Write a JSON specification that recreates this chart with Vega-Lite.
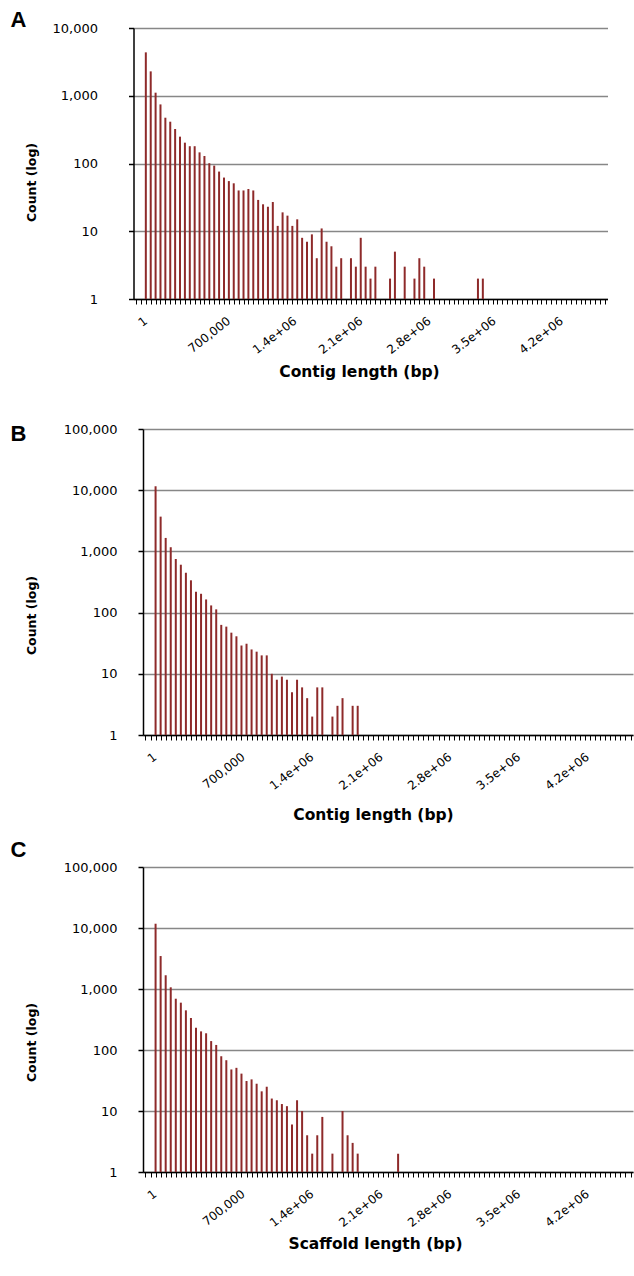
{
  "$schema": "https://vega.github.io/schema/vega-lite/v6.json",
  "background": "white",
  "padding": {"left": 10, "top": 8, "right": 0, "bottom": 0},
  "config": {"view": {"stroke": null}},
  "columns": 1,
  "align": "none",
  "spacing": 16,
  "concat": [
    {
      "width": 464.5,
      "height": 271,
      "title": {"text": "A", "anchor": "start", "frame": "group", "dx": -132.5, "offset": -26.5, "baseline": "alphabetic", "font": "Liberation Sans", "fontSize": 22, "fontWeight": "bold", "color": "#000"},
      "data": {"values": [
        {"bin_start": 0, "count": 4370}, {"bin_start": 50000, "count": 2290}, {"bin_start": 100000, "count": 1110}, {"bin_start": 150000, "count": 745},
        {"bin_start": 200000, "count": 474}, {"bin_start": 250000, "count": 414}, {"bin_start": 300000, "count": 323}, {"bin_start": 350000, "count": 249},
        {"bin_start": 400000, "count": 203}, {"bin_start": 450000, "count": 180}, {"bin_start": 500000, "count": 180}, {"bin_start": 550000, "count": 146},
        {"bin_start": 600000, "count": 129}, {"bin_start": 650000, "count": 101}, {"bin_start": 700000, "count": 93}, {"bin_start": 750000, "count": 76},
        {"bin_start": 800000, "count": 62}, {"bin_start": 850000, "count": 55}, {"bin_start": 900000, "count": 51}, {"bin_start": 950000, "count": 40},
        {"bin_start": 1000000, "count": 40}, {"bin_start": 1050000, "count": 42}, {"bin_start": 1100000, "count": 40}, {"bin_start": 1150000, "count": 29},
        {"bin_start": 1200000, "count": 25}, {"bin_start": 1250000, "count": 23}, {"bin_start": 1300000, "count": 27}, {"bin_start": 1350000, "count": 12},
        {"bin_start": 1400000, "count": 19}, {"bin_start": 1450000, "count": 17}, {"bin_start": 1500000, "count": 12}, {"bin_start": 1550000, "count": 15},
        {"bin_start": 1600000, "count": 8}, {"bin_start": 1650000, "count": 7}, {"bin_start": 1700000, "count": 9}, {"bin_start": 1750000, "count": 4},
        {"bin_start": 1800000, "count": 11}, {"bin_start": 1850000, "count": 7}, {"bin_start": 1900000, "count": 6}, {"bin_start": 1950000, "count": 3},
        {"bin_start": 2000000, "count": 4}, {"bin_start": 2100000, "count": 4}, {"bin_start": 2150000, "count": 3}, {"bin_start": 2200000, "count": 8},
        {"bin_start": 2250000, "count": 3}, {"bin_start": 2300000, "count": 2}, {"bin_start": 2350000, "count": 3}, {"bin_start": 2500000, "count": 2},
        {"bin_start": 2550000, "count": 5}, {"bin_start": 2650000, "count": 3}, {"bin_start": 2750000, "count": 2}, {"bin_start": 2800000, "count": 4},
        {"bin_start": 2850000, "count": 3}, {"bin_start": 2950000, "count": 2}, {"bin_start": 3400000, "count": 2}, {"bin_start": 3450000, "count": 2}
      ]},
      "mark": {"type": "bar", "orient": "vertical", "size": 2, "color": "#8e2a2a"},
      "encoding": {
        "x": {
          "field": "bin_start", "type": "quantitative",
          "scale": {"domain": [-75000, 4675000], "range": [-9.5, 464.5], "nice": false, "zero": false},
          "axis": {
            "tickCount": 95, "grid": false,
            "domainColor": "#000", "domainWidth": 1.5, "tickColor": "#000", "tickSize": 5, "tickWidth": 1,
            "labelExpr": "datum.value == 0 ? '1' : (datum.value > 0 && datum.value % 700000 == 0) ? (datum.value < 1000000 ? format(datum.value, ',') : replace(format(datum.value, '.1e'), 'e+', 'e+0')) : ''",
            "labelAngle": -38, "labelAlign": "right", "labelBaseline": "top", "labelPadding": 11,
            "labelOffset": {"condition": [
              {"test": "datum.value == 0", "value": -3.5},
              {"test": "datum.value == 700000", "value": 11},
              {"test": "datum.value == 1400000", "value": 9},
              {"test": "datum.value == 2100000", "value": 6.5},
              {"test": "datum.value == 2800000", "value": 6.5},
              {"test": "datum.value == 3500000", "value": 3}
            ], "value": 2},
            "labelOverlap": false, "labelFlush": false, "labelBound": false,
            "labelFont": "DejaVu Sans", "labelFontSize": 12, "labelColor": "#000",
            "title": ["Contig length (bp)", " "], "titleLineHeight": 27.5,
            "titleFont": "DejaVu Sans", "titleFontSize": 15.5, "titleFontWeight": "bold", "titleColor": "#000",
            "titleX": 216, "titleY": 65, "titleBaseline": "top", "titleAlign": "center"
          }
        },
        "y": {
          "field": "count", "type": "quantitative",
          "scale": {"type": "log", "domain": [1, 10000], "nice": false},
          "axis": {
            "values": [1, 10, 100, 1000, 10000], "format": ",", "offset": 9.5,
            "grid": true, "gridColor": "#878787", "gridWidth": 1.5,
            "domainColor": "#000", "domainWidth": 1.5, "tickColor": "#000", "tickSize": 5, "tickWidth": 1.5,
            "labelFont": "DejaVu Sans", "labelFontSize": 13, "labelColor": "#000", "labelPadding": 31,
            "title": "Count (log)", "titleFont": "DejaVu Sans", "titleFontSize": 12.5, "titleFontWeight": "bold", "titleColor": "#000",
            "titleX": -95, "titleY": 154, "titleAngle": -90, "titleBaseline": "bottom", "titleAlign": "center"
          }
        },
        "y2": {"datum": 1}
      }
    },
    {
      "width": 490,
      "height": 306,
      "title": {"text": "B", "anchor": "start", "frame": "group", "dx": -132.5, "offset": -40, "baseline": "alphabetic", "font": "Liberation Sans", "fontSize": 22, "fontWeight": "bold", "color": "#000"},
      "data": {"values": [
        {"bin_start": 0, "count": 11600}, {"bin_start": 50000, "count": 3700}, {"bin_start": 100000, "count": 1660}, {"bin_start": 150000, "count": 1170},
        {"bin_start": 200000, "count": 751}, {"bin_start": 250000, "count": 606}, {"bin_start": 300000, "count": 448}, {"bin_start": 350000, "count": 337},
        {"bin_start": 400000, "count": 219}, {"bin_start": 450000, "count": 203}, {"bin_start": 500000, "count": 164}, {"bin_start": 550000, "count": 131},
        {"bin_start": 600000, "count": 113}, {"bin_start": 650000, "count": 63}, {"bin_start": 700000, "count": 59}, {"bin_start": 750000, "count": 47},
        {"bin_start": 800000, "count": 41}, {"bin_start": 850000, "count": 29}, {"bin_start": 900000, "count": 31}, {"bin_start": 950000, "count": 25},
        {"bin_start": 1000000, "count": 23}, {"bin_start": 1050000, "count": 20}, {"bin_start": 1100000, "count": 20}, {"bin_start": 1150000, "count": 10},
        {"bin_start": 1200000, "count": 8}, {"bin_start": 1250000, "count": 9}, {"bin_start": 1300000, "count": 8}, {"bin_start": 1350000, "count": 5},
        {"bin_start": 1400000, "count": 8}, {"bin_start": 1450000, "count": 6}, {"bin_start": 1500000, "count": 4}, {"bin_start": 1550000, "count": 2},
        {"bin_start": 1600000, "count": 6}, {"bin_start": 1650000, "count": 6}, {"bin_start": 1750000, "count": 2}, {"bin_start": 1800000, "count": 3},
        {"bin_start": 1850000, "count": 4}, {"bin_start": 1950000, "count": 3}, {"bin_start": 2000000, "count": 3}
      ]},
      "mark": {"type": "bar", "orient": "vertical", "size": 2, "color": "#8e2a2a"},
      "encoding": {
        "x": {
          "field": "bin_start", "type": "quantitative",
          "scale": {"domain": [-75000, 4675000], "nice": false, "zero": false},
          "axis": {
            "tickCount": 95, "grid": false,
            "domainColor": "#000", "domainWidth": 1.5, "tickColor": "#000", "tickSize": 5, "tickWidth": 1,
            "labelExpr": "datum.value == 0 ? '1' : (datum.value > 0 && datum.value % 700000 == 0) ? (datum.value < 1000000 ? format(datum.value, ',') : replace(format(datum.value, '.1e'), 'e+', 'e+0')) : ''",
            "labelAngle": -38, "labelAlign": "right", "labelBaseline": "top", "labelPadding": 11,
            "labelOffset": {"condition": [
              {"test": "datum.value == 0", "value": -4},
              {"test": "datum.value == 700000", "value": 13.5},
              {"test": "datum.value == 1400000", "value": 11.5},
              {"test": "datum.value == 2100000", "value": 10},
              {"test": "datum.value == 2800000", "value": 8},
              {"test": "datum.value == 3500000", "value": 6}
            ], "value": 4},
            "labelOverlap": false, "labelFlush": false, "labelBound": false,
            "labelFont": "DejaVu Sans", "labelFontSize": 12, "labelColor": "#000",
            "title": "Contig length (bp)",
            "titleFont": "DejaVu Sans", "titleFontSize": 15.5, "titleFontWeight": "bold", "titleColor": "#000",
            "titleX": 230, "titleY": 72, "titleBaseline": "top", "titleAlign": "center"
          }
        },
        "y": {
          "field": "count", "type": "quantitative",
          "scale": {"type": "log", "domain": [1, 100000], "nice": false},
          "axis": {
            "values": [1, 10, 100, 1000, 10000, 100000], "format": ",",
            "grid": true, "gridColor": "#878787", "gridWidth": 1.5,
            "domainColor": "#000", "domainWidth": 1.5, "tickColor": "#000", "tickSize": 5, "tickWidth": 1.5,
            "labelFont": "DejaVu Sans", "labelFontSize": 13, "labelColor": "#000", "labelPadding": 21,
            "title": "Count (log)", "titleFont": "DejaVu Sans", "titleFontSize": 12.5, "titleFontWeight": "bold", "titleColor": "#000",
            "titleX": -104.5, "titleY": 186, "titleAngle": -90, "titleBaseline": "bottom", "titleAlign": "center"
          }
        },
        "y2": {"datum": 1}
      }
    },
    {
      "width": 490,
      "height": 305,
      "title": {"text": "C", "anchor": "start", "frame": "group", "dx": -132.5, "offset": -18, "baseline": "alphabetic", "font": "Liberation Sans", "fontSize": 22, "fontWeight": "bold", "color": "#000"},
      "data": {"values": [
        {"bin_start": 0, "count": 11750}, {"bin_start": 50000, "count": 3470}, {"bin_start": 100000, "count": 1680}, {"bin_start": 150000, "count": 1066},
        {"bin_start": 200000, "count": 693}, {"bin_start": 250000, "count": 597}, {"bin_start": 300000, "count": 447}, {"bin_start": 350000, "count": 335},
        {"bin_start": 400000, "count": 232}, {"bin_start": 450000, "count": 202}, {"bin_start": 500000, "count": 188}, {"bin_start": 550000, "count": 140},
        {"bin_start": 600000, "count": 121}, {"bin_start": 650000, "count": 79}, {"bin_start": 700000, "count": 68}, {"bin_start": 750000, "count": 48},
        {"bin_start": 800000, "count": 51}, {"bin_start": 850000, "count": 41}, {"bin_start": 900000, "count": 31}, {"bin_start": 950000, "count": 33},
        {"bin_start": 1000000, "count": 28}, {"bin_start": 1050000, "count": 21}, {"bin_start": 1100000, "count": 25}, {"bin_start": 1150000, "count": 16},
        {"bin_start": 1200000, "count": 15}, {"bin_start": 1250000, "count": 13}, {"bin_start": 1300000, "count": 12}, {"bin_start": 1350000, "count": 6},
        {"bin_start": 1400000, "count": 15}, {"bin_start": 1450000, "count": 10}, {"bin_start": 1500000, "count": 4}, {"bin_start": 1550000, "count": 2},
        {"bin_start": 1600000, "count": 4}, {"bin_start": 1650000, "count": 8}, {"bin_start": 1750000, "count": 2}, {"bin_start": 1850000, "count": 10},
        {"bin_start": 1900000, "count": 4}, {"bin_start": 1950000, "count": 3}, {"bin_start": 2000000, "count": 2}, {"bin_start": 2400000, "count": 2}
      ]},
      "mark": {"type": "bar", "orient": "vertical", "size": 2, "color": "#8e2a2a"},
      "encoding": {
        "x": {
          "field": "bin_start", "type": "quantitative",
          "scale": {"domain": [-75000, 4675000], "nice": false, "zero": false},
          "axis": {
            "tickCount": 95, "grid": false,
            "domainColor": "#000", "domainWidth": 1.5, "tickColor": "#000", "tickSize": 5, "tickWidth": 1,
            "labelExpr": "datum.value == 0 ? '1' : (datum.value > 0 && datum.value % 700000 == 0) ? (datum.value < 1000000 ? format(datum.value, ',') : replace(format(datum.value, '.1e'), 'e+', 'e+0')) : ''",
            "labelAngle": -38, "labelAlign": "right", "labelBaseline": "top", "labelPadding": 11,
            "labelOffset": {"condition": [
              {"test": "datum.value == 0", "value": -4},
              {"test": "datum.value == 700000", "value": 13.5},
              {"test": "datum.value == 1400000", "value": 11.5},
              {"test": "datum.value == 2100000", "value": 10},
              {"test": "datum.value == 2800000", "value": 8},
              {"test": "datum.value == 3500000", "value": 6}
            ], "value": 4},
            "labelOverlap": false, "labelFlush": false, "labelBound": false,
            "labelFont": "DejaVu Sans", "labelFontSize": 12, "labelColor": "#000",
            "title": "Scaffold length (bp)",
            "titleFont": "DejaVu Sans", "titleFontSize": 15.5, "titleFontWeight": "bold", "titleColor": "#000",
            "titleX": 232, "titleY": 64, "titleBaseline": "top", "titleAlign": "center"
          }
        },
        "y": {
          "field": "count", "type": "quantitative",
          "scale": {"type": "log", "domain": [1, 100000], "nice": false},
          "axis": {
            "values": [1, 10, 100, 1000, 10000, 100000], "format": ",",
            "grid": true, "gridColor": "#878787", "gridWidth": 1.5,
            "domainColor": "#000", "domainWidth": 1.5, "tickColor": "#000", "tickSize": 5, "tickWidth": 1.5,
            "labelFont": "DejaVu Sans", "labelFontSize": 13, "labelColor": "#000", "labelPadding": 21,
            "title": "Count (log)", "titleFont": "DejaVu Sans", "titleFontSize": 12.5, "titleFontWeight": "bold", "titleColor": "#000",
            "titleX": -104.5, "titleY": 175, "titleAngle": -90, "titleBaseline": "bottom", "titleAlign": "center"
          }
        },
        "y2": {"datum": 1}
      }
    }
  ]
}
